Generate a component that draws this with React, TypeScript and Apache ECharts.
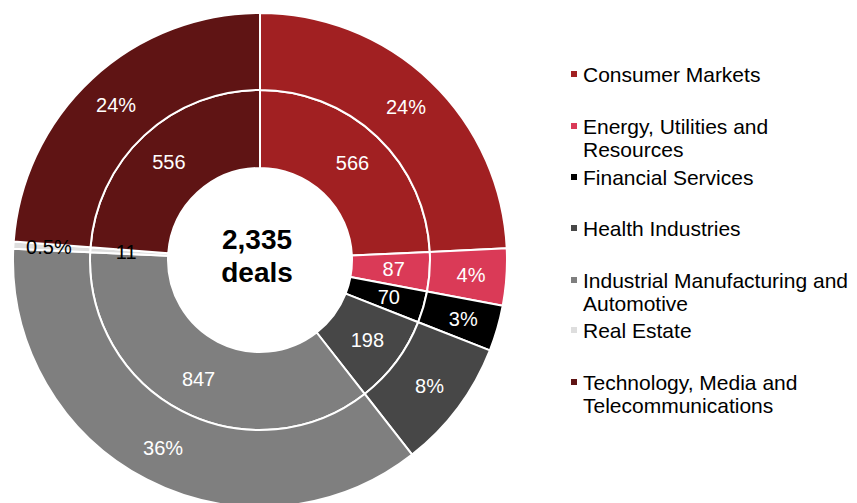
import React, { useEffect, useRef } from "react";
import * as echarts from "echarts";

const categories = [
  "Consumer Markets",
  "Energy, Utilities and Resources",
  "Financial Services",
  "Health Industries",
  "Industrial Manufacturing and Automotive",
  "Real Estate",
  "Technology, Media and Telecommunications",
];
const dealCounts = [566, 87, 70, 198, 847, 11, 556];
const pctLabels = ["24%", "4%", "3%", "8%", "36%", "0.5%", "24%"];
const legendLines: Record<string, string> = {
  "Energy, Utilities and Resources": "Energy, Utilities and\nResources",
  "Industrial Manufacturing and Automotive": "Industrial Manufacturing and\nAutomotive",
  "Technology, Media and Telecommunications": "Technology, Media and\nTelecommunications",
};

const colors = ["#A12022", "#DA3A57", "#000000", "#474747", "#7F7F7F", "#DEDEDE", "#5F1414"];
const labelColors = ["#fff", "#fff", "#fff", "#fff", "#fff", "#000", "#fff"];
const legendCenters = [74, 126, 177, 228, 280, 330, 382];

const FONT = "'Liberation Sans', Arial, sans-serif";

export default function App() {
  const ref = useRef<HTMLDivElement>(null);
  useEffect(() => {
    if (!ref.current) return;
    const chart = echarts.init(ref.current, undefined, { renderer: "svg" });
    const total = dealCounts.reduce((a, b) => a + b, 0);
    const LH = 23;
    const legends = categories.map((name, i) => {
      const twoLine = !!legendLines[name];
      const h = twoLine ? LH * 3 : LH;
      return {
        data: [name],
        left: 569,
        top: legendCenters[i] - h / 2,
        padding: 0,
        icon: "rect",
        itemWidth: 8,
        itemHeight: 8,
        selectedMode: false,
        formatter: (n: string) => (legendLines[n] ? "\n" + legendLines[n] : n),
        textStyle: {
          fontFamily: FONT,
          fontSize: 21,
          color: "#000",
          lineHeight: LH,
        },
      };
    });
    const mkSeries = (r0: number, r1: number, fmt: (p: any) => string) => ({
      type: "pie",
      center: [260, 260],
      radius: [r0, r1],
      startAngle: 90,
      clockwise: true,
      avoidLabelOverlap: false,
      itemStyle: { borderColor: "#fff", borderWidth: 2 },
      label: {
        show: true,
        position: "inside",
        fontFamily: FONT,
        fontSize: 20,
        formatter: fmt,
      },
      labelLine: { show: false },
      emphasis: { disabled: true },
      data: categories.map((name, i) => ({
        name,
        value: dealCounts[i],
        itemStyle: { color: colors[i] },
        label: { color: labelColors[i] },
      })),
    });
    chart.setOption({
      animation: false,
      legend: legends,
      graphic: [
        {
          type: "text",
          x: 257,
          y: 256,
          style: {
            text: total.toLocaleString("en-US") + "\ndeals",
            align: "center",
            verticalAlign: "middle",
            font: `bold 28px ${FONT}`,
            lineHeight: 33,
            fill: "#000",
          },
        },
      ],
      series: [
        mkSeries(92, 170, (p: any) => String(p.value)),
        mkSeries(170, 247, (p: any) => pctLabels[p.dataIndex]),
      ],
    });
    return () => chart.dispose();
  }, []);
  return (
    <div
      ref={ref}
      style={{ position: "fixed", left: 0, top: 0, width: 857, height: 503, background: "#fff" }}
    />
  );
}
